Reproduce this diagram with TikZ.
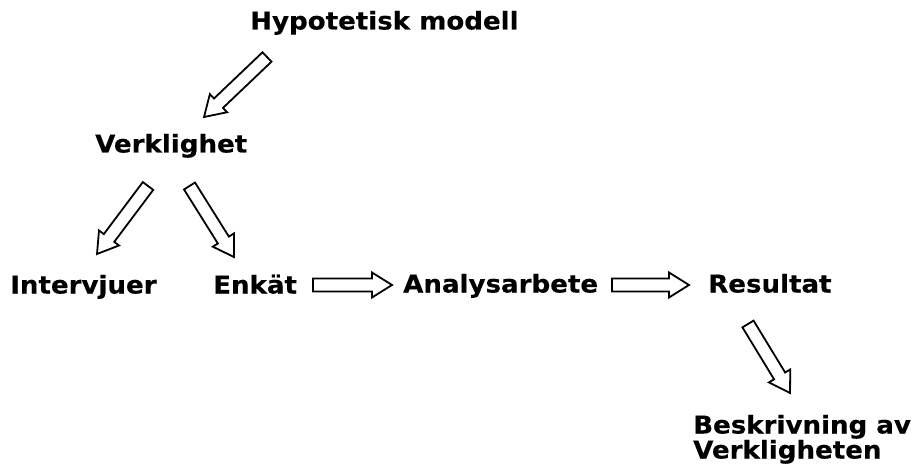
\documentclass[tikz,border=0pt]{standalone}
\usepackage{fontspec}
\setmainfont{DejaVu Sans}[FakeStretch=1.065,FakeBold=0.4]
\usetikzlibrary{calc}
\tikzset{
  lbl/.style={anchor=base west, inner sep=0pt, font=\fontsize{24.5}{25}\selectfont\bfseries, align=left},
  blockarrow/.style={draw=black, line width=1.8pt, line join=miter, to path={
    let \p1=(\tikztostart), \p2=(\tikztotarget),
        \n1={atan2(\y2-\y1,\x2-\x1)}, \n2={veclen(\x2-\x1,\y2-\y1)} in
    ($(\p1)+(\n1+90:6.5pt)$) --
    ($(\p1)+(\n1:\n2-20pt)+(\n1+90:6.5pt)$) --
    ($(\p1)+(\n1:\n2-20pt)+(\n1+90:12.5pt)$) --
    (\p2) --
    ($(\p1)+(\n1:\n2-20pt)+(\n1-90:12.5pt)$) --
    ($(\p1)+(\n1:\n2-20pt)+(\n1-90:6.5pt)$) --
    ($(\p1)+(\n1-90:6.5pt)$) -- cycle
  }}
}
\begin{document}
\begin{tikzpicture}[x=1pt,y=-1pt]
\useasboundingbox (0,0) rectangle (912,470);
\node[lbl] (hyp) at (250,29.5) {Hypotetisk modell};
\node[lbl] (ver) at (95,152.5) {Verklighet};
\node[lbl] (int) at (10,293.5) {Intervjuer};
\node[lbl] (enk) at (213,293.5) {Enkät};
\node[lbl] (ana) at (403,292.5) {Analysarbete};
\node[lbl] (res) at (708,292.5) {Resultat};
\node[lbl] (bes) at (693,458.5) {Beskrivning av\\Verkligheten};

\coordinate (a1s) at (267,57);   \coordinate (a1e) at (204,117);
\coordinate (a2s) at (148,186);  \coordinate (a2e) at (97,254);
\coordinate (a3s) at (189.5,186);\coordinate (a3e) at (234,257);
\coordinate (a4s) at (313,285);  \coordinate (a4e) at (392,285);
\coordinate (a5s) at (612,285);  \coordinate (a5e) at (689,285);
\coordinate (a6s) at (748,324);  \coordinate (a6e) at (790,393);

\draw[blockarrow] (a1s) to (a1e);
\draw[blockarrow] (a2s) to (a2e);
\draw[blockarrow] (a3s) to (a3e);
\draw[blockarrow] (a4s) to (a4e);
\draw[blockarrow] (a5s) to (a5e);
\draw[blockarrow] (a6s) to (a6e);
\end{tikzpicture}
\end{document}
